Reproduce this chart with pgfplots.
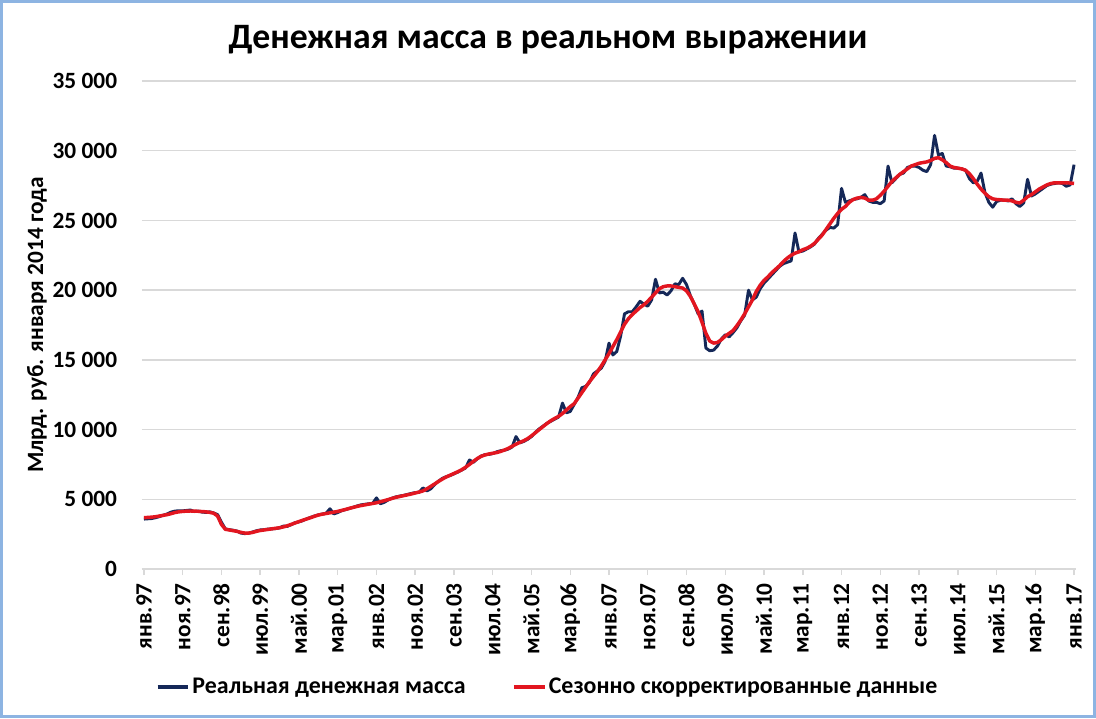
\documentclass[border=0pt]{standalone}
\usepackage{pgfplots}
\pgfplotsset{compat=1.18}
\usepackage{pgfplotstable}
\usepackage{fontspec}
\setmainfont{Carlito}
\definecolor{navy}{RGB}{21,40,88}
\definecolor{exred}{RGB}{226,22,32}
\definecolor{gridc}{RGB}{217,217,217}
\definecolor{framec}{RGB}{141,180,226}

\pgfplotstableread{
i real sa
0 3580 3680
1 3600 3700
2 3620 3720
3 3680 3750
4 3760 3800
5 3860 3850
6 3950 3900
7 4080 3970
8 4150 4050
9 4180 4100
10 4170 4130
11 4200 4150
12 4230 4160
13 4120 4150
14 4150 4140
15 4080 4120
16 4060 4100
17 4100 4060
18 4020 4000
19 3900 3800
20 3350 3200
21 2880 2850
22 2820 2800
23 2780 2750
24 2720 2700
25 2580 2630
26 2540 2580
27 2560 2580
28 2650 2620
29 2740 2700
30 2800 2760
31 2820 2800
32 2860 2840
33 2880 2880
34 2900 2920
35 2950 2960
36 3080 3020
37 3060 3100
38 3180 3200
39 3320 3300
40 3380 3400
41 3470 3500
42 3600 3590
43 3700 3680
44 3800 3780
45 3880 3870
46 3940 3930
47 4000 3980
48 4320 4030
49 3950 4080
50 4050 4130
51 4180 4200
52 4260 4270
53 4340 4350
54 4430 4420
55 4520 4490
56 4600 4550
57 4640 4600
58 4680 4650
59 4700 4700
60 5100 4750
61 4680 4820
62 4780 4900
63 4950 4980
64 5080 5060
65 5170 5140
66 5230 5200
67 5280 5260
68 5350 5320
69 5420 5380
70 5480 5450
71 5500 5520
72 5820 5600
73 5600 5750
74 5750 5920
75 6050 6100
76 6300 6280
77 6500 6450
78 6620 6600
79 6700 6730
80 6830 6850
81 6950 6980
82 7100 7120
83 7250 7300
84 7820 7500
85 7650 7720
86 7900 7920
87 8100 8080
88 8200 8180
89 8220 8250
90 8280 8300
91 8400 8350
92 8480 8430
93 8520 8530
94 8600 8650
95 8750 8800
96 9500 8950
97 9050 9080
98 9150 9200
99 9300 9350
100 9500 9550
101 9800 9770
102 10050 10000
103 10250 10220
104 10450 10440
105 10600 10640
106 10750 10800
107 10900 10950
108 11900 11150
109 11200 11400
110 11300 11650
111 11800 11850
112 12300 12250
113 13000 12650
114 13100 13050
115 13400 13450
116 14000 13800
117 14200 14150
118 14400 14550
119 14900 15000
120 16200 15450
121 15350 15950
122 15600 16450
123 16700 17000
124 18300 17550
125 18450 17950
126 18450 18250
127 18800 18500
128 19200 18750
129 19000 18950
130 18850 19200
131 19300 19500
132 20780 19800
133 19800 20100
134 19850 20250
135 19650 20300
136 19950 20300
137 20450 20250
138 20400 20200
139 20850 20150
140 20400 19950
141 19600 19550
142 19000 19000
143 18300 18450
144 18500 17700
145 15850 16900
146 15650 16350
147 15700 16200
148 16000 16250
149 16500 16450
150 16800 16700
151 16650 16900
152 16950 17100
153 17300 17450
154 17800 17850
155 18200 18300
156 20000 18800
157 19300 19300
158 19500 19900
159 20100 20350
160 20500 20700
161 20800 20950
162 21100 21250
163 21400 21500
164 21700 21750
165 21900 22050
166 22000 22300
167 22100 22500
168 24100 22650
169 22750 22750
170 22800 22900
171 22950 23000
172 23100 23150
173 23300 23350
174 23700 23650
175 24000 23950
176 24300 24350
177 24500 24750
178 24450 25150
179 24700 25500
180 27300 25800
181 26300 26000
182 26400 26300
183 26500 26500
184 26550 26600
185 26650 26650
186 26850 26600
187 26400 26450
188 26300 26450
189 26300 26550
190 26200 26800
191 26400 27100
192 28900 27450
193 27700 27800
194 28000 28050
195 28300 28300
196 28400 28500
197 28800 28700
198 28900 28900
199 28900 29000
200 28800 29100
201 28600 29150
202 28500 29200
203 29000 29300
204 31100 29450
205 29700 29500
206 29800 29350
207 28900 29150
208 28850 28900
209 28750 28800
210 28750 28750
211 28700 28700
212 28600 28600
213 28000 28350
214 27700 28000
215 27800 27600
216 28400 27250
217 27000 26950
218 26300 26700
219 25950 26550
220 26350 26500
221 26450 26480
222 26450 26450
223 26400 26450
224 26550 26400
225 26200 26300
226 26000 26250
227 26250 26450
228 27950 26700
229 26750 26850
230 26900 27050
231 27100 27250
232 27300 27400
233 27500 27550
234 27600 27650
235 27650 27700
236 27700 27700
237 27650 27700
238 27450 27700
239 27550 27680
240 29000 27650
}\moneydata

\begin{document}
\begin{tikzpicture}
\path[use as bounding box] (0pt,0pt) rectangle (822pt,538.5pt);
\fill[white] (0pt,0pt) rectangle (822pt,538.5pt);
\draw[framec, line width=2.25pt] (1.125pt,1.125pt) rectangle (820.875pt,537.375pt);
\node[font=\fontsize{26.8}{32}\selectfont\bfseries] at (411pt,509pt) {Денежная масса в реальном выражении};
\node[rotate=90, font=\fontsize{17.5}{21}\selectfont\bfseries] at (27.75pt,294.75pt) {Млрд. руб. января 2014 года};
\begin{axis}[
  at={(106.5pt,111.75pt)}, anchor=south west,
  width=700.5pt, height=366pt, scale only axis,
  xmin=-0.5, xmax=240.5, ymin=0, ymax=35000,
  axis x line*=bottom, axis y line*=left,
  x axis line style={gridc, line width=1.1pt, -},
  y axis line style={draw=none},
  scaled y ticks=false, scaled x ticks=false,
  xtick={0,10,...,240},
  xticklabels={янв.97,ноя.97,сен.98,июл.99,май.00,мар.01,янв.02,ноя.02,сен.03,июл.04,май.05,мар.06,янв.07,ноя.07,сен.08,июл.09,май.10,мар.11,янв.12,ноя.12,сен.13,июл.14,май.15,мар.16,янв.17},
  ytick={0,5000,...,35000},
  yticklabels={0,5 000,10 000,15 000,20 000,25 000,30 000,35 000},
  tick align=outside,
  major tick length=4.5pt,
  xtick style={gridc, line width=1.1pt},
  ytick style={draw=none},
  ymajorgrids, grid style={gridc, line width=1.1pt},
  ticklabel style={font=\fontsize{17.5}{21}\selectfont\bfseries},
  xticklabel style={rotate=90, anchor=east, inner sep=0pt},
  xticklabel shift=6pt,
  yticklabel style={anchor=east, inner sep=0pt},
  yticklabel shift=14pt,
  legend style={at={(0.4347,-0.2418)}, anchor=center, draw=none, fill=none,
    font=\fontsize{17.9}{21}\selectfont\bfseries,
    /tikz/every even column/.append style={column sep=33pt}},
  legend columns=2,
  legend image code/.code={\draw[#1, line width=2.4pt] (0pt,0pt) -- (23pt,0pt);},
  line join=round,
]
\addplot[navy, line width=2.2pt, mark=none] table[x=i,y=real]{\moneydata};
\addlegendentry{Реальная денежная масса}
\addplot[exred, line width=2.6pt, mark=none] table[x=i,y=sa]{\moneydata};
\addlegendentry{Сезонно скорректированные данные}
\end{axis}
\end{tikzpicture}
\end{document}
